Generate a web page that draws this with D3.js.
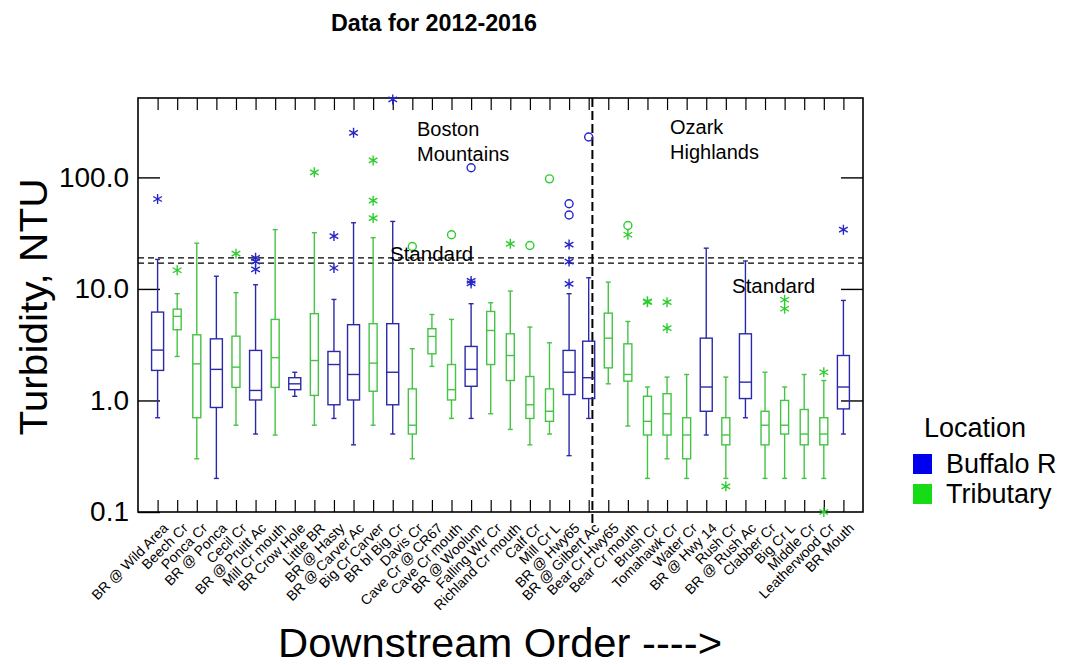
<!DOCTYPE html>
<html>
<head>
<meta charset="utf-8">
<script src="https://cdn.jsdelivr.net/npm/d3@7"></script>
<style>
  body { margin: 0; background: #fff; }
  svg { display: block; font-family: "Liberation Sans", Arial, sans-serif; }
</style>
</head>
<body>
<script>
// sites in downstream order
const sites = ["BR @ Wild Area","Beech Cr","Ponca Cr","BR @ Ponca","Cecil Cr","BR @ Pruitt Ac",
  "Mill Cr mouth","BR Crow Hole","Little BR","BR @ Hasty","BR @ Carver Ac","Big Cr Carver",
  "BR bl Big Cr","Davis Cr","Cave Cr @ CR67","Cave Cr mouth","BR @ Woolum","Falling Wtr Cr",
  "Richland Cr mouth","Calf Cr","Mill Cr L","BR @ Hwy65","BR @ Gilbert Ac","Bear Cr Hwy65",
  "Bear Cr mouth","Brush Cr","Tomahawk Cr","Water Cr","BR @ Hwy 14","Rush Cr","BR @ Rush Ac",
  "Clabber Cr","Big Cr L","Middle Cr","Leatherwood Cr","BR Mouth"];
const siteType = ["Buffalo R","Tributary","Tributary","Buffalo R","Tributary","Buffalo R",
  "Tributary","Buffalo R","Tributary","Buffalo R","Buffalo R","Tributary",
  "Buffalo R","Tributary","Tributary","Tributary","Buffalo R","Tributary",
  "Tributary","Tributary","Tributary","Buffalo R","Buffalo R","Tributary",
  "Tributary","Tributary","Tributary","Tributary","Buffalo R","Tributary","Buffalo R",
  "Tributary","Tributary","Tributary","Tributary","Buffalo R"];

// box statistics (NTU)
const whiskerLow  = [0.70,2.48,0.30,0.20,0.60,0.50,0.49,1.09,0.60,0.69,0.40,0.60,0.50,0.30,2.02,0.69,0.69,0.76,0.55,0.40,0.50,0.32,0.69,1.41,0.59,0.20,0.30,0.20,0.49,0.20,0.70,0.20,0.20,0.20,0.20,0.50];
const q1          = [1.86,4.31,0.70,0.865,1.31,1.01,1.31,1.25,1.11,0.915,1.01,1.21,0.915,0.50,2.62,1.01,1.34,2.10,1.51,0.69,0.65,1.13,1.04,1.96,1.49,0.49,0.49,0.30,0.80,0.40,1.04,0.40,0.50,0.40,0.40,0.84];
const median      = [2.83,5.67,2.13,1.90,1.99,1.23,2.42,1.41,2.28,2.10,1.71,2.16,1.79,0.60,3.75,1.25,1.90,4.24,2.53,0.915,0.80,1.79,1.60,3.62,1.71,0.65,0.76,0.49,1.32,0.49,1.46,0.60,0.60,0.50,0.50,1.32];
const q3          = [6.2,6.59,3.88,3.57,3.77,2.81,5.33,1.60,6.0,2.75,4.78,4.88,4.88,1.27,4.4,2.10,3.05,6.28,3.96,1.64,1.27,2.81,3.40,6.07,3.22,1.09,1.15,0.70,3.62,0.70,3.96,0.80,1.0,0.83,0.70,2.53];
const whiskerHigh = [18.4,9.06,25.7,13.0,9.25,10.9,34,1.79,31.9,8.05,39.2,28.8,40.3,2.91,5.9,5.33,7.37,7.52,9.56,4.55,3.29,9.06,12.6,11.5,5.11,1.32,1.62,1.71,23.2,1.62,17.8,1.79,1.32,1.71,1.51,7.89];

// outliers: site index, value, marker (star = far out, circle = outside)
const outlierSite  = [0,1,4,5,5,5,8,9,9,10,11,11,11,12,13,15,16,16,16,18,19,20,21,21,21,21,21,22,24,24,25,25,26,26,29,32,32,34,34,35];
const outlierValue = [64,14.7,20.7,19.0,17.6,15.0,111,29.8,15.4,251,142,61.9,43.2,500,24,30.6,11.2,11.8,122,25.4,24.5,97,58,46,25,17.6,11.1,230,37,30.6,7.6,7.75,7.6,4.45,0.17,8.0,6.64,1.79,0.1,34];
const outlierMark  = ["s","s","s","s","s","s","s","s","s","s","s","s","s","s","c","c","s","s","c","s","c","c","c","c","s","s","s","c","c","s","s","s","s","s","s","s","s","s","s","s"];

const yTicks = [0.1, 1, 10, 100];
const standards = [19, 17];

const width = 1069, height = 665;
const plotLeft = 138, plotRight = 863, plotTop = 98, plotBottom = 512;

const boxColor = {"Buffalo R": "#2a2aa8", "Tributary": "#44c444"};
const markColor = {"Buffalo R": "#2626c8", "Tributary": "#2ecc2e"};
const legendColor = {"Buffalo R": "#0000ee", "Tributary": "#16dc16"};
const boxWidth = {"Buffalo R": 12, "Tributary": 8};

const svg = d3.select("body").append("svg")
  .attr("width", width)
  .attr("height", height);

const x = d3.scalePoint().domain(sites).range([plotLeft, plotRight]).padding(1);
const y = d3.scaleLog().domain([0.1, 515]).range([plotBottom, plotTop]);

// title
svg.append("text")
  .attr("x", 434).attr("y", 31)
  .attr("text-anchor", "middle")
  .attr("font-size", 23).attr("font-weight", "bold")
  .attr("textLength", 206).attr("lengthAdjust", "spacingAndGlyphs")
  .text("Data for 2012-2016");

// axes
const bottomAxis = svg.append("g")
  .attr("transform", `translate(0,${plotBottom})`)
  .call(d3.axisBottom(x).tickSizeInner(-12).tickSizeOuter(0));
bottomAxis.select(".domain").remove();
bottomAxis.selectAll("line").attr("stroke", "#000").attr("stroke-width", 1.2);
bottomAxis.selectAll("text")
  .attr("x", 0).attr("y", 0).attr("dy", 0)
  .attr("text-anchor", "end")
  .attr("font-size", 14)
  .attr("font-family", "Liberation Sans, Arial, sans-serif")
  .attr("fill", "#000")
  .attr("transform", "translate(11,17) rotate(-45)");

const topAxis = svg.append("g")
  .attr("transform", `translate(0,${plotTop})`)
  .call(d3.axisTop(x).tickSizeInner(-12).tickSizeOuter(0).tickFormat(""));
topAxis.select(".domain").remove();
topAxis.selectAll("line").attr("stroke", "#000").attr("stroke-width", 1.2);

const leftAxis = svg.append("g")
  .attr("transform", `translate(${plotLeft},0)`)
  .call(d3.axisLeft(y).tickValues(yTicks).tickFormat(d3.format(".1f")).tickSizeInner(-22).tickSizeOuter(0).tickPadding(9));
leftAxis.select(".domain").remove();
leftAxis.selectAll("line").attr("stroke", "#000").attr("stroke-width", 1.4);
leftAxis.selectAll("text")
  .attr("font-size", 28)
  .attr("font-family", "Liberation Sans, Arial, sans-serif")
  .attr("fill", "#000");

const rightAxis = svg.append("g")
  .attr("transform", `translate(${plotRight},0)`)
  .call(d3.axisRight(y).tickValues(yTicks.slice(1)).tickFormat("").tickSizeInner(-22).tickSizeOuter(0));
rightAxis.select(".domain").remove();
rightAxis.selectAll("line").attr("stroke", "#000").attr("stroke-width", 1.4);

// frame
svg.append("rect")
  .attr("x", plotLeft).attr("y", plotTop)
  .attr("width", plotRight - plotLeft).attr("height", plotBottom - plotTop)
  .attr("fill", "none").attr("stroke", "#000").attr("stroke-width", 1.6);

// standards
svg.selectAll(".std").data(standards).enter().append("line")
  .attr("class", "std")
  .attr("x1", plotLeft).attr("x2", plotRight)
  .attr("y1", d => y(d)).attr("y2", d => y(d))
  .attr("stroke", "#000").attr("stroke-width", 1.3)
  .attr("stroke-dasharray", "6,4");

// ecoregion divider
const divX = x(sites[22]) + x.step() * 0.19;
svg.append("line")
  .attr("x1", divX).attr("x2", divX)
  .attr("y1", plotTop).attr("y2", plotBottom + 14)
  .attr("stroke", "#000").attr("stroke-width", 2)
  .attr("stroke-dasharray", "9,4");

// boxes
const boxes = svg.append("g").selectAll("g").data(sites).enter().append("g")
  .attr("transform", d => `translate(${x(d)},0)`)
  .attr("stroke", (d, i) => boxColor[siteType[i]])
  .attr("stroke-width", 1.4)
  .attr("fill", "none");

boxes.append("line")
  .attr("y1", (d, i) => y(whiskerLow[i])).attr("y2", (d, i) => y(q1[i]));
boxes.append("line")
  .attr("y1", (d, i) => y(q3[i])).attr("y2", (d, i) => y(whiskerHigh[i]));
boxes.append("line")
  .attr("x1", -2.5).attr("x2", 2.5)
  .attr("y1", (d, i) => y(whiskerLow[i])).attr("y2", (d, i) => y(whiskerLow[i]));
boxes.append("line")
  .attr("x1", -2.5).attr("x2", 2.5)
  .attr("y1", (d, i) => y(whiskerHigh[i])).attr("y2", (d, i) => y(whiskerHigh[i]));
boxes.append("rect")
  .attr("x", (d, i) => -boxWidth[siteType[i]] / 2)
  .attr("width", (d, i) => boxWidth[siteType[i]])
  .attr("y", (d, i) => y(q3[i]))
  .attr("height", (d, i) => y(q1[i]) - y(q3[i]));
boxes.append("line")
  .attr("x1", (d, i) => -boxWidth[siteType[i]] / 2)
  .attr("x2", (d, i) => boxWidth[siteType[i]] / 2)
  .attr("y1", (d, i) => y(median[i])).attr("y2", (d, i) => y(median[i]));

// outliers
function asterisk(r) {
  const t = r / 2, u = t * Math.sqrt(3);
  return `M0,${r}L0,${-r}M${-u},${-t}L${u},${t}M${-u},${t}L${u},${-t}`;
}
const outliers = outlierSite.map((s, i) => ({site: s, value: outlierValue[i], mark: outlierMark[i]}));
svg.append("g").selectAll("path").data(outliers).enter().append("path")
  .attr("transform", d => `translate(${x(sites[d.site])},${y(d.value)})`)
  .attr("d", d => d.mark === "s" ? asterisk(5) : d3.symbol(d3.symbolCircle, 50)())
  .attr("fill", "none")
  .attr("stroke", d => markColor[siteType[d.site]])
  .attr("stroke-width", 1.4);

// annotations
const notes = [
  {lines: ["Boston", "Mountains"], x: 417, y: 136},
  {lines: ["Ozark", "Highlands"], x: 670, y: 134}
];
notes.forEach(n => {
  svg.append("text")
    .attr("x", n.x).attr("y", n.y)
    .attr("font-size", 20)
    .selectAll("tspan").data(n.lines).enter().append("tspan")
    .attr("x", n.x).attr("dy", (d, i) => i ? 25 : 0)
    .text(d => d);
});
svg.append("text").attr("x", 390).attr("y", 261).attr("font-size", 20.5).text("Standard");
svg.append("text").attr("x", 732).attr("y", 293).attr("font-size", 20.5).text("Standard");

// axis titles
svg.append("text")
  .attr("transform", "translate(47,307) rotate(-90)")
  .attr("text-anchor", "middle")
  .attr("font-size", 38)
  .attr("textLength", 257).attr("lengthAdjust", "spacingAndGlyphs")
  .text("Turbidity, NTU");
svg.append("text")
  .attr("x", 500).attr("y", 657)
  .attr("text-anchor", "middle")
  .attr("font-size", 40)
  .attr("textLength", 444).attr("lengthAdjust", "spacingAndGlyphs")
  .text("Downstream Order ---->");

// legend
const legend = svg.append("g").attr("transform", "translate(913,0)");
legend.append("text").attr("x", 11).attr("y", 437).attr("font-size", 27).text("Location");
const legendItems = ["Buffalo R", "Tributary"];
const li = legend.selectAll(".li").data(legendItems).enter().append("g")
  .attr("class", "li")
  .attr("transform", (d, i) => `translate(0,${454 + i * 30})`);
li.append("rect").attr("width", 19).attr("height", 20).attr("fill", d => legendColor[d]);
li.append("text").attr("x", 33).attr("y", 19).attr("font-size", 27).text(d => d);
</script>
</body>
</html>
